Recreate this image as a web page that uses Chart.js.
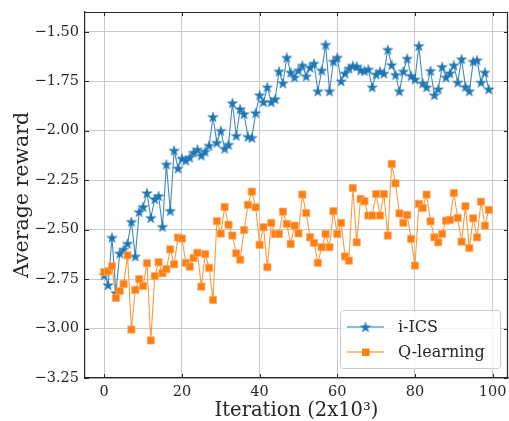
<!DOCTYPE html>
<html><head><meta charset="utf-8">
<script src="https://cdn.jsdelivr.net/npm/chart.js@4.4.0/dist/chart.umd.min.js"></script>
<style>html,body{margin:0;padding:0;background:#fff;}#wrap{width:509px;height:421px;position:relative;}</style>
</head><body><div id="wrap"><canvas id="c" width="509" height="421"></canvas></div>
<script>
// ---- data ----
const iterations = [0,1,2,3,4,5,6,7,8,9,10,11,12,13,14,15,16,17,18,19,20,21,22,23,24,25,26,27,28,29,30,31,32,33,34,35,36,37,38,39,40,41,42,43,44,45,46,47,48,49,50,51,52,53,54,55,56,57,58,59,60,61,62,63,64,65,66,67,68,69,70,71,72,73,74,75,76,77,78,79,80,81,82,83,84,85,86,87,88,89,90,91,92,93,94,95,96,97,98,99];
const icsReward = [-2.73,-2.78,-2.54,-2.82,-2.62,-2.60,-2.57,-2.46,-2.635,-2.41,-2.385,-2.315,-2.44,-2.345,-2.33,-2.485,-2.17,-2.405,-2.10,-2.19,-2.14,-2.15,-2.135,-2.11,-2.095,-2.125,-2.105,-2.075,-1.93,-2.06,-2.0,-2.09,-2.07,-1.86,-2.025,-1.89,-1.915,-2.03,-2.035,-1.91,-1.82,-1.855,-1.78,-1.855,-1.84,-1.70,-1.76,-1.63,-1.705,-1.73,-1.695,-1.67,-1.725,-1.68,-1.66,-1.80,-1.695,-1.565,-1.80,-1.65,-1.63,-1.75,-1.71,-1.685,-1.672,-1.675,-1.694,-1.697,-1.69,-1.78,-1.715,-1.70,-1.71,-1.59,-1.667,-1.717,-1.80,-1.70,-1.635,-1.722,-1.74,-1.571,-1.76,-1.78,-1.697,-1.82,-1.79,-1.677,-1.73,-1.709,-1.669,-1.756,-1.638,-1.778,-1.80,-1.65,-1.643,-1.756,-1.705,-1.79];
const qReward = [-2.715,-2.71,-2.685,-2.845,-2.81,-2.775,-2.63,-3.005,-2.805,-2.75,-2.785,-2.67,-3.06,-2.735,-2.665,-2.72,-2.70,-2.60,-2.675,-2.54,-2.545,-2.668,-2.687,-2.643,-2.617,-2.788,-2.624,-2.693,-2.855,-2.457,-2.52,-2.386,-2.475,-2.53,-2.62,-2.652,-2.502,-2.375,-2.308,-2.387,-2.577,-2.488,-2.69,-2.466,-2.522,-2.522,-2.409,-2.471,-2.572,-2.48,-2.519,-2.323,-2.416,-2.539,-2.567,-2.668,-2.589,-2.522,-2.589,-2.407,-2.522,-2.466,-2.636,-2.657,-2.29,-2.564,-2.345,-2.357,-2.429,-2.429,-2.32,-2.429,-2.32,-2.53,-2.168,-2.266,-2.418,-2.466,-2.426,-2.547,-2.682,-2.37,-2.39,-2.323,-2.458,-2.539,-2.564,-2.522,-2.455,-2.451,-2.315,-2.441,-2.561,-2.382,-2.593,-2.443,-2.539,-2.359,-2.48,-2.40];
const seriesNames = ['i-ICS','Q-learning'];
const xTicks = [0,20,40,60,80,100];
const yTicks = [-3.25,-3.00,-2.75,-2.50,-2.25,-2.00,-1.75,-1.50];
const yTickLabels = ['\u22123.25','\u22123.00','\u22122.75','\u22122.50','\u22122.25','\u22122.00','\u22121.75','\u22121.50'];
const xTitle = 'Iteration (2x10\u00b3)';
const yTitle = 'Average reward';

// ---- styles ----
const BLUE = '#1f77b4', ORANGE = '#ff7f0e';
const FONT = "'DejaVu Serif', serif";
const INK = '#262626';

function makeStar(size, r, color){
  const c = document.createElement('canvas');
  c.width = size; c.height = size;
  const g = c.getContext('2d');
  const cx = size/2, cy = size/2 + r*0.1, ri = r*0.382;
  g.beginPath();
  for (let k=0;k<10;k++){
    const ang = -Math.PI/2 + k*Math.PI/5;
    const rr = k%2===0 ? r : ri;
    const px = cx + rr*Math.cos(ang), py = cy + rr*Math.sin(ang);
    if (k===0) g.moveTo(px,py); else g.lineTo(px,py);
  }
  g.closePath();
  g.fillStyle = color; g.fill();
  g.lineWidth = 0.6; g.strokeStyle = 'rgba(31,119,180,0.6)'; g.stroke();
  return c;
}
const starImg = makeStar(14, 5.6, BLUE);
const zeroPad = () => ({left:0, top:0, right:0, bottom:0});

const decoPlugin = {
  id:'deco',
  afterDraw(chart){
    const {ctx, chartArea:a, scales} = chart;
    ctx.save();
    // top & right spines
    ctx.strokeStyle = INK; ctx.lineWidth = 1.2;
    ctx.beginPath();
    ctx.moveTo(a.left, a.top+0.5); ctx.lineTo(a.right, a.top+0.5);
    ctx.moveTo(a.right-0.5, a.top); ctx.lineTo(a.right-0.5, a.bottom);
    ctx.stroke();
    // inward ticks on all four sides
    ctx.lineWidth = 1;
    ctx.beginPath();
    const TL = 4;
    xTicks.forEach(v=>{
      const x = Math.round(scales.x.getPixelForValue(v))+0.5;
      ctx.moveTo(x, a.bottom); ctx.lineTo(x, a.bottom-TL);
      ctx.moveTo(x, a.top); ctx.lineTo(x, a.top+TL);
    });
    yTicks.forEach(v=>{
      const y = Math.round(scales.y.getPixelForValue(v))+0.5;
      ctx.moveTo(a.left, y); ctx.lineTo(a.left+TL, y);
      ctx.moveTo(a.right, y); ctx.lineTo(a.right-TL, y);
    });
    ctx.stroke();
    // legend (lower right, inside the axes)
    const bx = 340.5, by = 310.5, bw = 160, bh = 58, rad = 3;
    ctx.beginPath();
    ctx.moveTo(bx+rad, by); ctx.lineTo(bx+bw-rad, by); ctx.quadraticCurveTo(bx+bw, by, bx+bw, by+rad);
    ctx.lineTo(bx+bw, by+bh-rad); ctx.quadraticCurveTo(bx+bw, by+bh, bx+bw-rad, by+bh);
    ctx.lineTo(bx+rad, by+bh); ctx.quadraticCurveTo(bx, by+bh, bx, by+bh-rad);
    ctx.lineTo(bx, by+rad); ctx.quadraticCurveTo(bx, by, bx+rad, by);
    ctx.closePath();
    ctx.fillStyle = 'rgba(255,255,255,0.8)'; ctx.fill();
    ctx.strokeStyle = '#cccccc'; ctx.lineWidth = 1; ctx.stroke();
    const rows = [{y:327, color:BLUE, star:true},{y:352, color:ORANGE, star:false}];
    rows.forEach((r,i)=>{
      ctx.strokeStyle = r.color; ctx.lineWidth = 1.2;
      ctx.beginPath(); ctx.moveTo(347, r.y); ctx.lineTo(384, r.y); ctx.stroke();
      if (r.star) ctx.drawImage(starImg, 365.5-starImg.width/2, r.y-starImg.height/2);
      else { ctx.fillStyle = ORANGE; ctx.fillRect(362, r.y-3.5, 7.5, 7.5); }
      ctx.fillStyle = INK; ctx.font = "16px " + FONT; ctx.textBaseline = 'middle'; ctx.textAlign = 'left';
      ctx.fillText(seriesNames[i], 398, r.y+1);
    });
    ctx.restore();
  }
};

new Chart(document.getElementById('c'), {
  type:'line',
  data:{datasets:[
    {label:seriesNames[0], data: iterations.map((x,i)=>({x:x, y:icsReward[i]})),
     borderColor:'rgba(31,119,180,0.85)', backgroundColor:BLUE, borderWidth:1.1,
     pointStyle:starImg, pointRadius:5, tension:0, order:1},
    {label:seriesNames[1], data: iterations.map((x,i)=>({x:x, y:qReward[i]})),
     borderColor:'rgba(255,127,14,0.8)', backgroundColor:ORANGE, borderWidth:1.1,
     pointStyle:'rect', pointRadius:5.1, pointBackgroundColor:ORANGE, pointBorderColor:'rgba(255,170,110,0.9)', pointBorderWidth:0.8,
     tension:0, order:0}
  ]},
  options:{
    responsive:false, animation:false, devicePixelRatio:1,
    layout:{autoPadding:false, padding:{top:12,right:1,left:0,bottom:0}},
    plugins:{legend:{display:false}, tooltip:{enabled:false}},
    scales:{
      x:{type:'linear', min:-4.95, max:103.95,
         afterBuildTicks:s=>{s.ticks = xTicks.map(v=>({value:v}));},
         ticks:{callback:v=>String(v), font:{family:FONT,size:14.5}, color:INK, padding:6, maxRotation:0, autoSkip:false},
         grid:{color:'#cbcbcb', lineWidth:1, drawTicks:false},
         border:{color:INK, width:1.2},
         title:{display:true, text:xTitle, font:{family:FONT,size:19.5}, color:INK, padding:{top:0,bottom:-2}},
         afterFit:s=>{s.height = 43; s.paddingLeft = 0; s.paddingRight = 0; s.getPadding = zeroPad;}},
      y:{type:'linear', min:-3.25, max:-1.4,
         afterBuildTicks:s=>{s.ticks = yTicks.map(v=>({value:v}));},
         ticks:{callback:(v)=>{const k=yTicks.indexOf(v); return k>=0?yTickLabels[k]:'';}, font:{family:FONT,size:14.5}, color:INK, padding:6, autoSkip:false},
         grid:{color:'#cbcbcb', lineWidth:1, drawTicks:false},
         border:{color:INK, width:1.2},
         title:{display:true, text:yTitle, font:{family:FONT,size:20.5}, color:INK, padding:{top:10,bottom:0}},
         afterFit:s=>{s.width = 85; s.paddingTop = 0; s.paddingBottom = 0; s.getPadding = zeroPad;}}
    }
  },
  plugins:[decoPlugin]
});
</script></body></html>
